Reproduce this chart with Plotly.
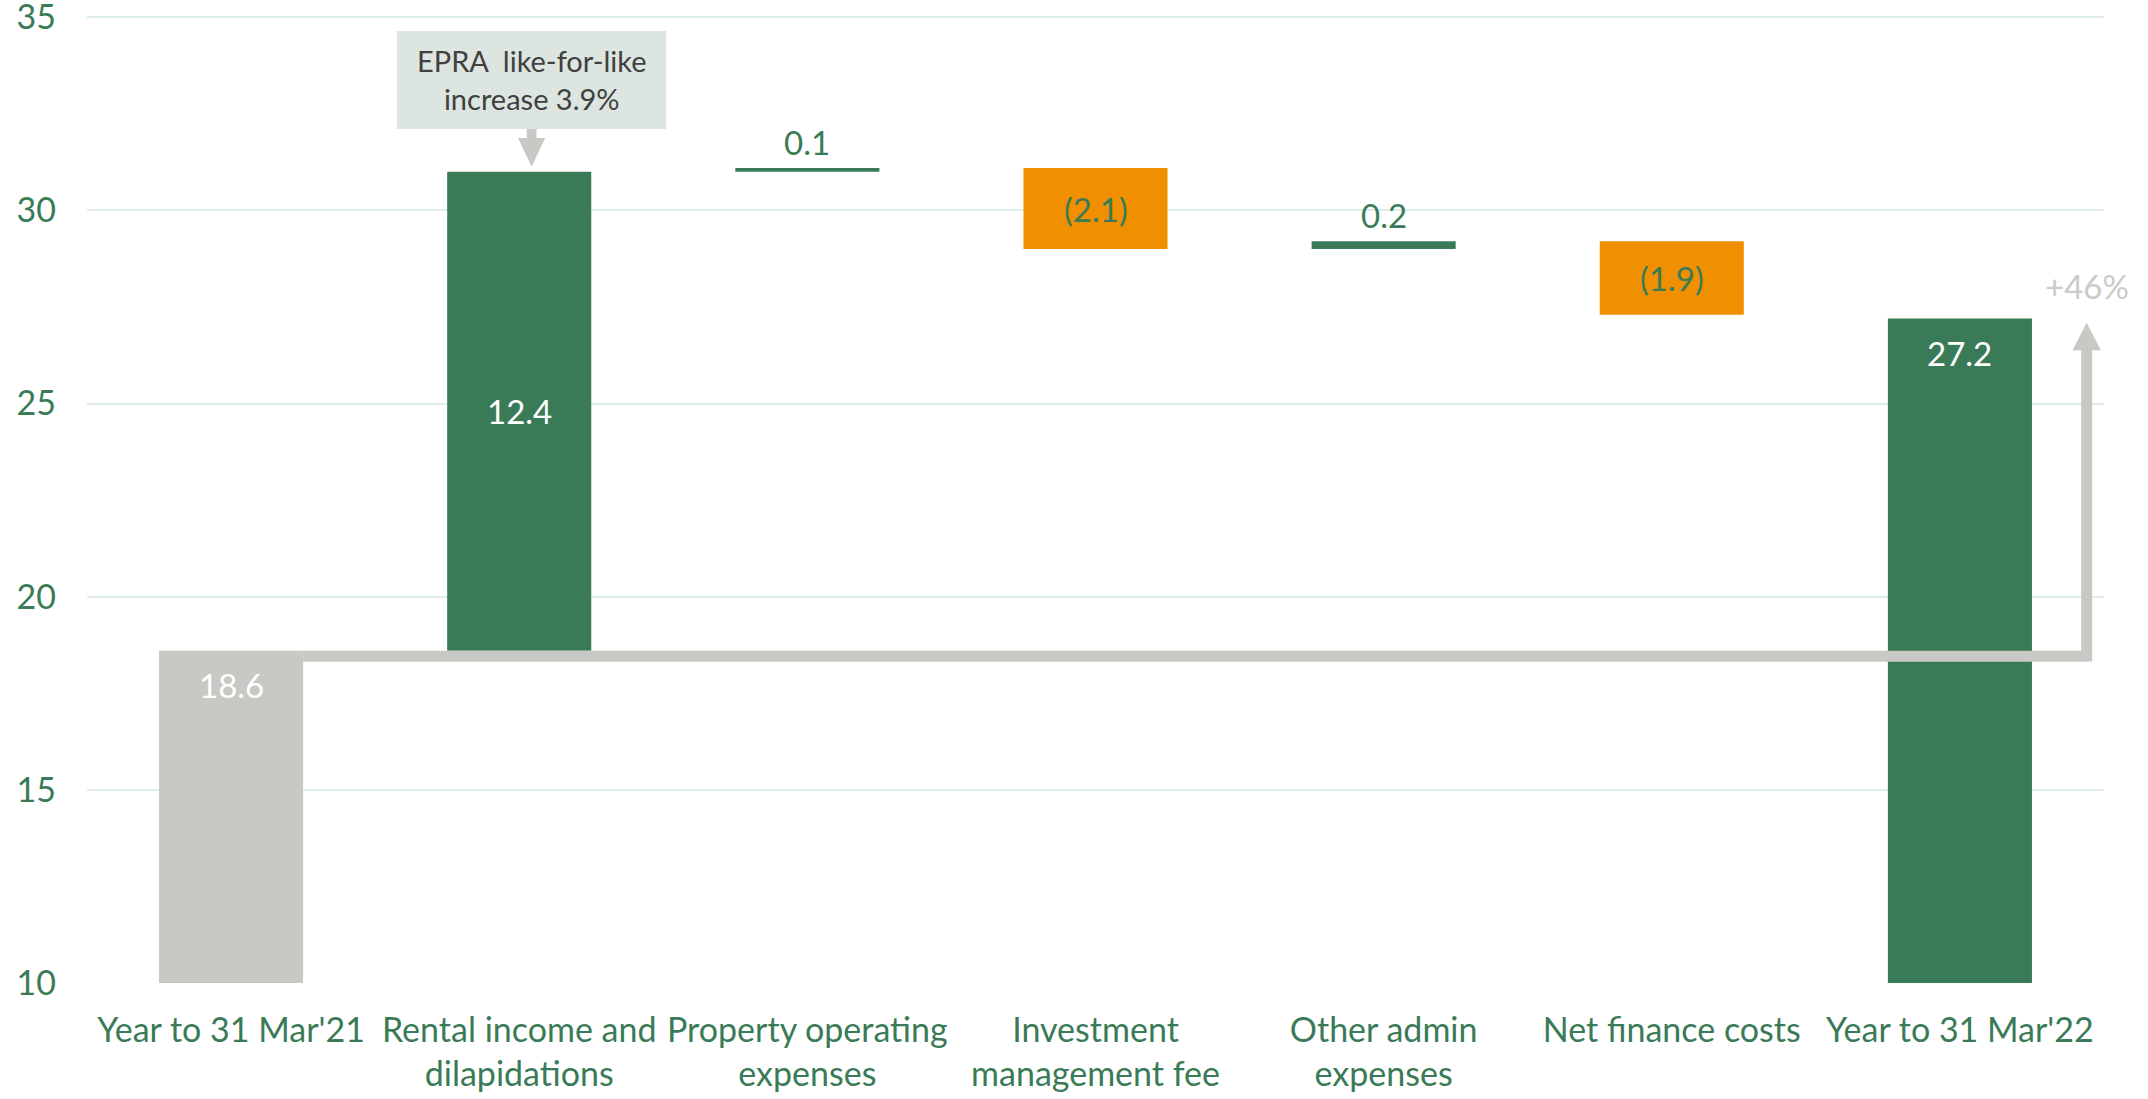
import plotly.graph_objects as go

# ---- data ----
categories = ["Year to 31 Mar'21", "Rental income and<br>dilapidations", "Property operating<br>expenses",
              "Investment<br>management fee", "Other admin<br>expenses", "Net finance costs", "Year to 31 Mar'22"]
values = [18.6, 12.4, 0.1, -2.1, 0.2, -1.9, 27.2]
kinds = ["total", "delta", "delta", "delta", "delta", "delta", "total"]
y_ticks = [10, 15, 20, 25, 30, 35]
callout_text = "EPRA\u00a0 like-for-like<br>increase 3.9%"

GREEN = "#3A7B57"
ORANGE = "#F09000"
GREY = "#C8C8C4"
GRID = "#DDEEE7"
FONT = "Lato, Carlito, sans-serif"

x = list(range(len(categories)))
bases, heights, colors = [], [], []
running = 0.0
for i, (v, k) in enumerate(zip(values, kinds)):
    if k == "total":
        bases.append(0)
        heights.append(v)
        colors.append(GREY if i == 0 else GREEN)
        running = v
    else:
        bases.append(running)
        heights.append(v)
        colors.append(GREEN if v >= 0 else ORANGE)
        running += v

fig = go.Figure()
fig.add_trace(go.Bar(x=x, y=heights, base=bases, marker=dict(color=colors, line=dict(width=0)),
                     width=0.5, hoverinfo="skip", showlegend=False))

# data labels
for i, (v, k) in enumerate(zip(values, kinds)):
    lo = min(bases[i], bases[i] + v)
    hi = max(bases[i], bases[i] + v)
    txt = f"({abs(v):.1f})" if v < 0 else f"{v:.1f}"
    if k == "total":
        fig.add_annotation(x=i, y=hi, text=txt, showarrow=False, yanchor="top", yshift=-12,
                           font=dict(family=FONT, size=33, color="white"))
    elif abs(v) >= 1:
        fig.add_annotation(x=i, y=(lo + hi) / 2, text=txt, showarrow=False, yanchor="middle",
                           font=dict(family=FONT, size=33, color="white" if v > 0 else GREEN))
    else:
        fig.add_annotation(x=i, y=hi, text=txt, showarrow=False, yanchor="bottom", yshift=4,
                           font=dict(family=FONT, size=33, color=GREEN))

# connector arrow from start total to end total
start, end = values[0], values[-1]
ax = 6.44
ly = start - 0.14
fig.add_shape(type="line", x0=0.25, x1=ax, y0=ly, y1=ly, line=dict(color=GREY, width=11), layer="above")
fig.add_shape(type="line", x0=ax, x1=ax, y0=ly - 0.14, y1=end - 0.8, line=dict(color=GREY, width=11), layer="above")
fig.add_shape(type="path", path=f"M {ax-0.049},{end-0.82} L {ax+0.049},{end-0.82} L {ax},{end-0.11} Z",
              fillcolor=GREY, line=dict(width=0), layer="above")
pct = (end / start - 1) * 100
fig.add_annotation(x=ax, y=end + 0.85, text=f"+{pct:.0f}%", showarrow=False,
                   font=dict(family=FONT, size=33, color="#CACAC6"))

# callout box
fig.add_shape(type="rect", x0=0.576, x1=1.510, y0=32.107, y1=34.645, fillcolor="#DCE5DF",
              line=dict(width=0), layer="above")
fig.add_annotation(x=1.043, y=33.38, text=callout_text, showarrow=False,
                   font=dict(family=FONT, size=29, color="#404040"))
fig.add_shape(type="rect", x0=1.026, x1=1.060, y0=31.86, y1=32.107, fillcolor=GREY,
              line=dict(width=0), layer="above")
fig.add_shape(type="path", path="M 0.996,31.875 L 1.090,31.875 L 1.043,31.13 Z",
              fillcolor=GREY, line=dict(width=0), layer="above")

fig.update_layout(
    width=2148, height=1099,
    margin=dict(l=87, r=44, t=15, b=116, autoexpand=False),
    paper_bgcolor="white", plot_bgcolor="white",
    font=dict(family=FONT, color=GREEN),
    bargap=0.5,
)
fig.update_xaxes(range=[-0.5, 6.5], tickmode="array", tickvals=x, ticktext=categories,
                 showgrid=False, zeroline=False, showline=False, tickangle=0, automargin=False,
                 tickfont=dict(family=FONT, size=34, color=GREEN), ticklabelstandoff=24, ticks="")
fig.update_yaxes(range=[10, 35.06], tickmode="array", tickvals=y_ticks, showgrid=True, gridcolor=GRID,
                 gridwidth=2, zeroline=False, showline=False, ticklabeloverflow="allow", automargin=False,
                 tickfont=dict(family=FONT, size=34, color=GREEN), ticklabelstandoff=30, ticks="")

fig.write_html("out.html", config={"displayModeBar": False},
               post_script="document.body.style.margin='0';document.body.style.overflow='hidden';")
